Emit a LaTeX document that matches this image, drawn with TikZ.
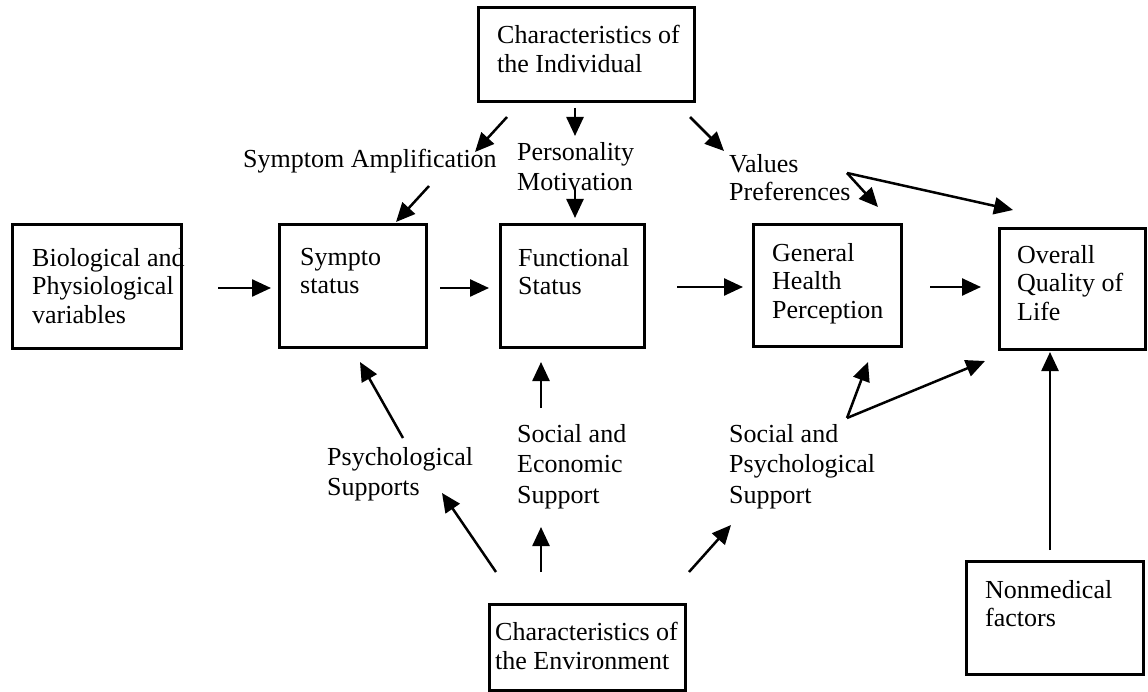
\documentclass[tikz,border=0pt]{standalone}
\usepackage{fontspec}
\setmainfont{Liberation Serif}
\usetikzlibrary{arrows.meta}
\begin{document}
\begin{tikzpicture}[x=1pt,y=-1pt,
  box/.style={draw, line width=2.6pt, inner sep=0pt, anchor=north west},
  txt/.style={inner sep=0pt, anchor=north west, align=left, font=\fontsize{26}{28.5}\selectfont},
  lbl/.style={inner sep=0pt, anchor=north west, align=left, font=\fontsize{26}{30.5}\selectfont},
  arr/.style={line width=2.5pt, -{Triangle[length=19pt,width=17pt]}}]
\useasboundingbox (0,0) rectangle (1148,692);

% boxes
\node[box, minimum width=216pt, minimum height=94pt] (ind) at (477,6) {};
\node[box, minimum width=169pt, minimum height=124pt] (bio) at (11,223) {};
\node[box, minimum width=147pt, minimum height=123pt] (sym) at (278,223) {};
\node[box, minimum width=144pt, minimum height=123pt] (fun) at (499,223) {};
\node[box, minimum width=148pt, minimum height=122pt] (gen) at (752,223) {};
\node[box, minimum width=146pt, minimum height=121pt] (ovr) at (998,227) {};
\node[box, minimum width=177pt, minimum height=113pt] (non) at (965,560) {};
\node[box, minimum width=196pt, minimum height=86pt] (env) at (488,603) {};

% box texts
\node[txt] (indT) at (497,25) {Characteristics of\\the Individual};
\node[txt] (bioT) at (32,248) {Biological and\\Physiological\\variables};
\node[txt] (symT) at (300,248) {Sympto\\status};
\node[txt] (funT) at (518,248) {Functional\\Status};
\node[txt] (genT) at (772,243) {General\\Health\\Perception};
\node[txt] (ovrT) at (1017,245) {Overall\\Quality of\\Life};
\node[txt] (nonT) at (985,580) {Nonmedical\\factors};
\node[txt] (envT) at (495,622) {Characteristics of\\the Environment};

% free labels
\node[lbl] (sa) at (243,149) {Symptom Amplification};
\node[lbl] (pm) at (517,142) {Personality\\Motivation};
\node[lbl, font=\fontsize{26}{28}\selectfont] (vp) at (729,154) {Values\\Preferences};
\node[lbl] (ps) at (327,447) {Psychological\\Supports};
\node[lbl] (se) at (517,424) {Social and\\Economic\\Support};
\node[lbl] (sp) at (729,424) {Social and\\Psychological\\Support};

% arrow end points
\coordinate (a1s) at (218,288);  \coordinate (a1e) at (271,288);
\coordinate (a2s) at (440,288);  \coordinate (a2e) at (489,288);
\coordinate (a3s) at (677,287);  \coordinate (a3e) at (743,287);
\coordinate (a4s) at (930,287);  \coordinate (a4e) at (981,287);
\coordinate (i1s) at (507,117);  \coordinate (i1e) at (475,152);
\coordinate (i2s) at (575,108);  \coordinate (i2e) at (575,136);
\coordinate (i3s) at (690,117);  \coordinate (i3e) at (724,151);
\coordinate (saS) at (429,186);  \coordinate (saE) at (396,222);
\coordinate (pmS) at (575,188);  \coordinate (pmE) at (575,218);
\coordinate (vpS) at (847,173);  \coordinate (vpE1) at (878,207); \coordinate (vpE2) at (1013,210);
\coordinate (spS) at (847,418);  \coordinate (spE1) at (868,362); \coordinate (spE2) at (985,361);
\coordinate (psS) at (403,438);  \coordinate (psE) at (360,362);
\coordinate (seS) at (541,408);  \coordinate (seE) at (541,362);
\coordinate (e1s) at (496,572);  \coordinate (e1e) at (442,493);
\coordinate (e2s) at (541,572);  \coordinate (e2e) at (541,527);
\coordinate (e3s) at (689,572);  \coordinate (e3e) at (731,525);
\coordinate (nS) at (1050,550);  \coordinate (nE) at (1050,352);

% connectors
\draw[arr] (a1s) -- (a1e);
\draw[arr] (a2s) -- (a2e);
\draw[arr] (a3s) -- (a3e);
\draw[arr] (a4s) -- (a4e);
\draw[arr] (i1s) -- (i1e);
\draw[arr] (i2s) -- (i2e);
\draw[arr] (i3s) -- (i3e);
\draw[arr] (saS) -- (saE);
\draw[arr] (pmS) -- (pmE);
\draw[arr] (vpS) -- (vpE1);
\draw[arr] (vpS) -- (vpE2);
\draw[arr] (spS) -- (spE1);
\draw[arr] (spS) -- (spE2);
\draw[arr] (psS) -- (psE);
\draw[arr] (seS) -- (seE);
\draw[arr] (e1s) -- (e1e);
\draw[arr] (e2s) -- (e2e);
\draw[arr] (e3s) -- (e3e);
\draw[arr] (nS) -- (nE);
\end{tikzpicture}
\end{document}
